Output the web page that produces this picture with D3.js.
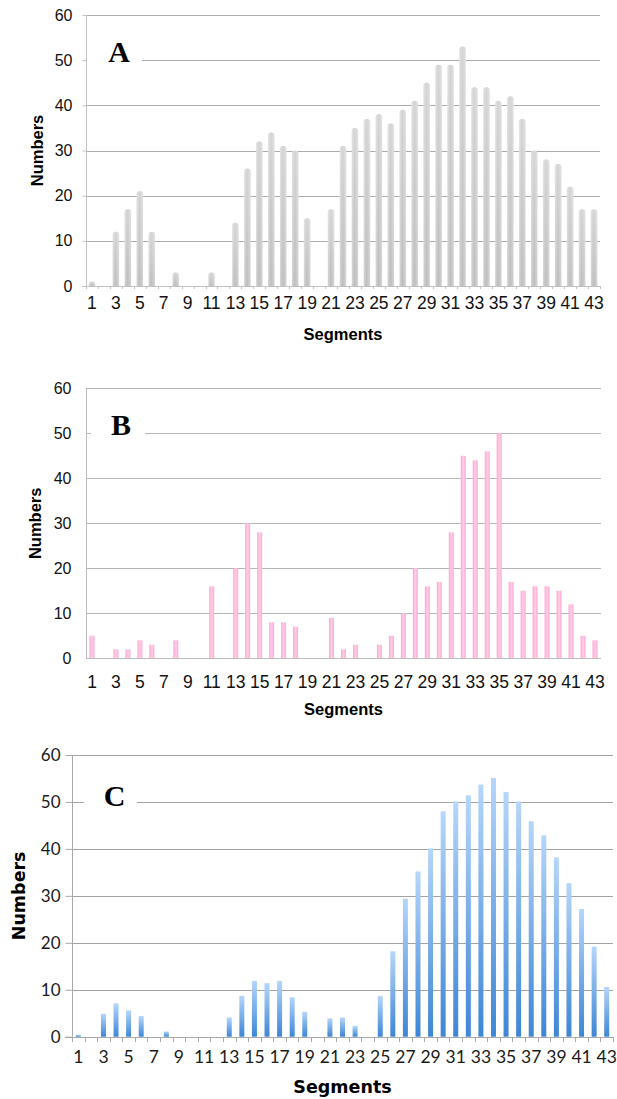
<!DOCTYPE html>
<html>
<head>
<meta charset="utf-8">
<script src="https://cdn.jsdelivr.net/npm/d3@7/dist/d3.min.js"></script>
<style>
  body { margin: 0; background: #fff; }
  svg { display: block; }
</style>
</head>
<body>
<script>
// segments 1..43
var segments = [1, 2, 3, 4, 5, 6, 7, 8, 9, 10, 11, 12, 13, 14, 15, 16, 17, 18, 19, 20, 21, 22,
                23, 24, 25, 26, 27, 28, 29, 30, 31, 32, 33, 34, 35, 36, 37, 38, 39, 40, 41, 42, 43];
var tickLabels = [1, 3, 5, 7, 9, 11, 13, 15, 17, 19, 21, 23, 25, 27, 29, 31, 33, 35, 37, 39, 41, 43];
var yTicks = [0, 10, 20, 30, 40, 50, 60];

var countsA = [1, 0, 12, 17, 21, 12, 0, 3, 0, 0, 3, 0, 14, 26, 32, 34, 31, 30, 15, 0, 17, 31,
               35, 37, 38, 36, 39, 41, 45, 49, 49, 53, 44, 44, 41, 42, 37, 30, 28, 27, 22, 17, 17];
var countsB = [5, 0, 2, 2, 4, 3, 0, 4, 0, 0, 16, 0, 20, 30, 28, 8, 8, 7, 0, 0, 9, 2,
               3, 0, 3, 5, 10, 20, 16, 17, 28, 45, 44, 46, 50, 17, 15, 16, 16, 15, 12, 5, 4];
var countsC = [0.4, 0, 4.9, 7.1, 5.6, 4.4, 0, 1.1, 0, 0, 0, 0, 4.1, 8.7, 11.9, 11.4, 11.9, 8.4, 5.3, 0, 3.9, 4.1,
               2.3, 0, 8.7, 18.2, 29.4, 35.2, 40.1, 48, 50.1, 51.4, 53.7, 55.1, 52.1, 50.1, 45.9, 42.9, 38.2, 32.7, 27.2, 19.2, 10.6];

var svg = d3.select("body").append("svg").attr("width", 617).attr("height", 1099);
var defs = svg.append("defs");

function addGradient(id, horizontal, stops) {
    var g = defs.append("linearGradient").attr("id", id)
        .attr("x1", 0).attr("y1", 0)
        .attr("x2", horizontal ? 1 : 0).attr("y2", horizontal ? 0 : 1);
    stops.forEach(function(s) {
        g.append("stop").attr("offset", s[0]).attr("stop-color", s[1]).attr("stop-opacity", s[2] == null ? 1 : s[2]);
    });
}
addGradient("gradA", true, [["0%", "#d6d6d6"], ["45%", "#bdbdbd"], ["100%", "#d4d4d4"]]);
addGradient("shineA", false, [["0%", "#ffffff", 0.35], ["100%", "#ffffff", 0]]);
addGradient("gradB", true, [["0%", "#ffa3d1"], ["50%", "#ffd0e7"], ["100%", "#ffa8d4"]]);
addGradient("gradC", false, [["0%", "#b6d6fb"], ["100%", "#3d86d5"]]);

var panels = [
    {name: "A", data: countsA, left: 86, right: 600, top: 15, bottom: 286,
     barW: 6.5, fill: "url(#gradA)", rounded: true,
     grid: "#acacac", axis: "#c2c2c2", textColor: "#111",
     font: "'Liberation Sans', Arial, sans-serif", ySize: 16, xSize: 17.5,
     yTick: 4, yPad: 10, xTick: 3, xPad: 11,
     titleFont: "'Liberation Sans', Arial, sans-serif", titleSize: 16.5, titleWeight: "bold",
     numX: 37.5, segY: 340,
     letterX: 119, letterY: 62, boxX: 87, boxW: 55},
    {name: "B", data: countsB, left: 86, right: 601, top: 388.3, bottom: 658.3,
     barW: 5, fill: "url(#gradB)", rounded: false,
     grid: "#b6b6b6", axis: "#bcbcbc", textColor: "#111",
     font: "'Liberation Sans', Arial, sans-serif", ySize: 16, xSize: 17.5,
     yTick: 0, yPad: 15, xTick: 0, xPad: 17,
     titleFont: "'Liberation Sans', Arial, sans-serif", titleSize: 16.5, titleWeight: "bold",
     numX: 35, segY: 715,
     letterX: 121, letterY: 435, boxX: 91, boxW: 54},
    {name: "C", data: countsC, left: 72, right: 613, top: 755, bottom: 1036.7,
     barW: 5, fill: "url(#gradC)", rounded: false,
     grid: "#a3a3a3", axis: "#a8a8a8", textColor: "#1a1a1a",
     font: "Lato, 'Open Sans', sans-serif", ySize: 17, xSize: 17.5,
     yTick: 7, yPad: 5, xTick: 5, xPad: 14,
     titleFont: "'DejaVu Sans', sans-serif", titleSize: 17.5, titleWeight: "bold",
     numX: 19, segY: 1093,
     letterX: 114.5, letterY: 806, boxX: 84, boxW: 53}
];

panels.forEach(function(p) {
    var g = svg.append("g").attr("class", "panel-" + p.name);

    var x = d3.scaleBand().domain(segments).range([p.left, p.right]).padding(0);
    var y = d3.scaleLinear().domain([0, 60]).range([p.bottom, p.top]);

    // gridlines
    g.append("g").selectAll("line")
        .data(yTicks.filter(function(d) { return d > 0; }))
        .enter().append("line")
        .attr("x1", p.left).attr("x2", p.right)
        .attr("y1", function(d) { return Math.round(y(d)) + 0.5; })
        .attr("y2", function(d) { return Math.round(y(d)) + 0.5; })
        .attr("stroke", p.grid).attr("stroke-width", 1);

    // panel letter with its white patch over the 50 gridline
    g.append("rect")
        .attr("x", p.boxX).attr("y", p.letterY - 26)
        .attr("width", p.boxW).attr("height", 32)
        .attr("fill", "#fff");
    g.append("text")
        .attr("x", p.letterX).attr("y", p.letterY)
        .attr("text-anchor", "middle")
        .style("font", "bold 30px 'Liberation Serif', 'Times New Roman', serif")
        .style("fill", "#000")
        .text(p.name);

    // bars
    var bw = p.barW;
    var bars = g.append("g").selectAll(".bar")
        .data(p.data.map(function(v, i) { return {seg: segments[i], value: v}; })
                    .filter(function(d) { return d.value > 0; }))
        .enter();

    if (p.rounded) {
        var barPath = function(d) {
            var x0 = x(d.seg) + (x.bandwidth() - bw) / 2, x1 = x0 + bw,
                r = bw / 2, top = y(d.value), base = y(0);
            var capTop = Math.min(top + r, base);
            return "M" + x0 + "," + base + "V" + capTop +
                   "A" + r + "," + r + " 0 0 1 " + x1 + "," + capTop +
                   "V" + base + "Z";
        };
        bars.append("path").attr("d", barPath).attr("fill", p.fill);
        bars.append("path").attr("d", barPath).attr("fill", "url(#shineA)");
    } else {
        bars.append("rect")
            .attr("x", function(d) { return x(d.seg) + (x.bandwidth() - bw) / 2; })
            .attr("y", function(d) { return y(d.value); })
            .attr("width", bw)
            .attr("height", function(d) { return y(0) - y(d.value); })
            .attr("fill", p.fill);
    }

    // axis lines
    g.append("line")
        .attr("x1", p.left + 0.5).attr("x2", p.left + 0.5)
        .attr("y1", p.top).attr("y2", p.bottom)
        .attr("stroke", p.axis);
    g.append("line")
        .attr("x1", p.left - p.yTick).attr("x2", p.right)
        .attr("y1", Math.round(p.bottom) + 0.5).attr("y2", Math.round(p.bottom) + 0.5)
        .attr("stroke", p.axis);

    // x tick marks on the band boundaries
    if (p.xTick > 0) {
        var edges = segments.map(function(s) { return x(s); }).concat([p.right]);
        g.append("g").selectAll("line").data(edges).enter().append("line")
            .attr("x1", function(d) { return Math.round(d) + 0.5; })
            .attr("x2", function(d) { return Math.round(d) + 0.5; })
            .attr("y1", Math.round(p.bottom)).attr("y2", Math.round(p.bottom) + p.xTick)
            .attr("stroke", p.axis);
    }

    // y axis
    var yAxis = g.append("g")
        .attr("transform", "translate(" + (p.left + 0.5) + ",0)")
        .call(d3.axisLeft(y).tickValues(yTicks).tickSize(p.yTick).tickPadding(p.yPad));
    yAxis.select(".domain").remove();
    yAxis.selectAll("line").attr("stroke", p.axis);
    yAxis.selectAll("text")
        .style("font-family", p.font).style("font-size", p.ySize + "px").style("fill", p.textColor);

    // x axis labels
    var xAxis = g.append("g")
        .attr("transform", "translate(0," + p.bottom + ")")
        .call(d3.axisBottom(x).tickValues(tickLabels).tickSize(0).tickPadding(p.xPad));
    xAxis.select(".domain").remove();
    xAxis.selectAll("text")
        .style("font-family", p.font).style("font-size", p.xSize + "px").style("fill", p.textColor);

    // axis titles
    g.append("text")
        .attr("x", (p.left + p.right) / 2).attr("y", p.segY)
        .attr("text-anchor", "middle")
        .style("font-family", p.titleFont).style("font-size", p.titleSize + "px")
        .style("font-weight", p.titleWeight).style("fill", "#000")
        .text("Segments");
    g.append("text")
        .attr("transform", "translate(" + p.numX + "," + ((p.top + p.bottom) / 2) + ") rotate(-90)")
        .attr("text-anchor", "middle").attr("dy", "0.35em")
        .style("font-family", p.titleFont).style("font-size", p.titleSize + "px")
        .style("font-weight", p.titleWeight).style("fill", "#000")
        .text("Numbers");
});
</script>
</body>
</html>
